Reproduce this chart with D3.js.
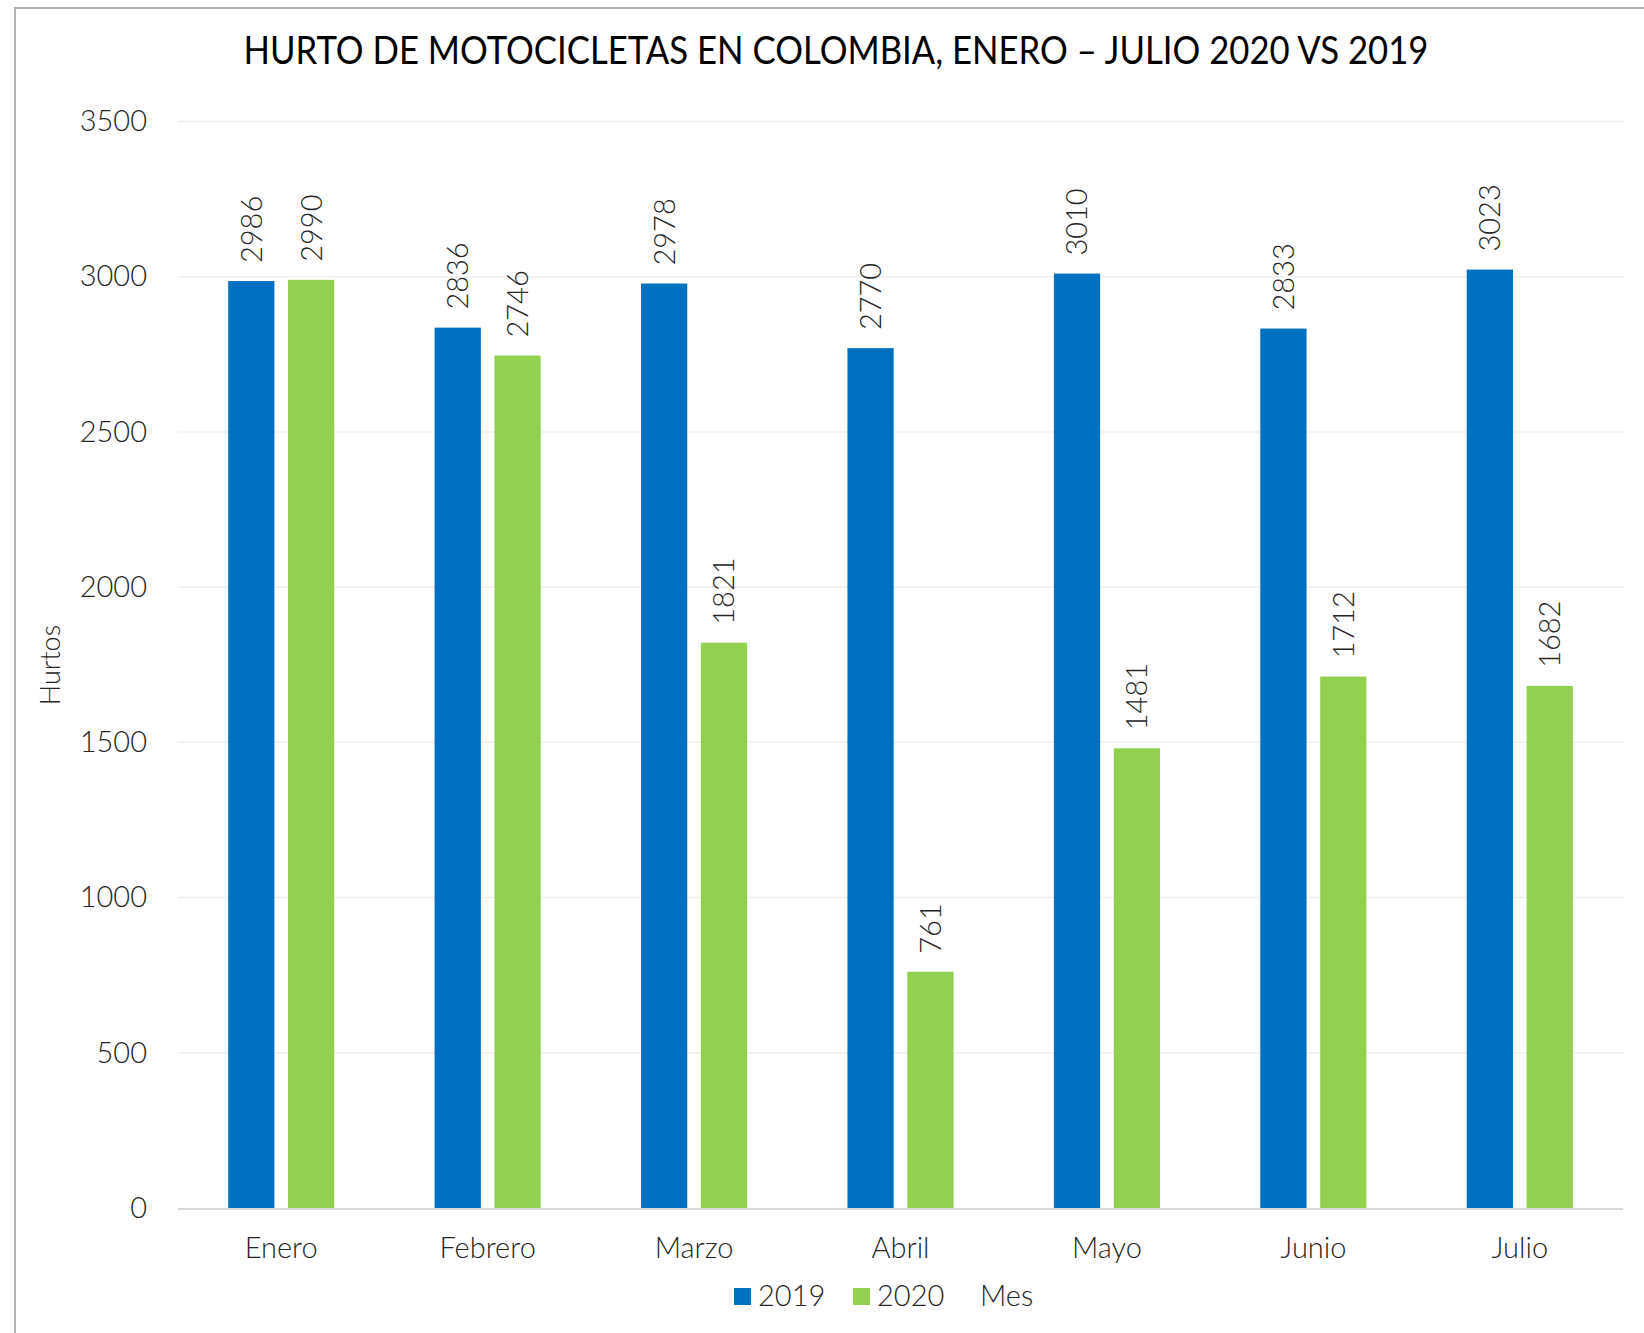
<!DOCTYPE html>
<html>
<head>
<meta charset="utf-8">
<script src="https://cdn.jsdelivr.net/npm/d3@7"></script>
<style>
  body { margin: 0; background: #fff; }
  svg { display: block; }
  text { fill: #262626; }
</style>
</head>
<body>
<svg id="chart" width="1644" height="1333"></svg>
<script>
// datos
const meses = ["Enero", "Febrero", "Marzo", "Abril", "Mayo", "Junio", "Julio"];
const series = ["2019", "2020"];
const hurtos2019 = [2986, 2836, 2978, 2770, 3010, 2833, 3023];
const hurtos2020 = [2990, 2746, 1821, 761, 1481, 1712, 1682];
const yTicks = [0, 500, 1000, 1500, 2000, 2500, 3000, 3500];

const colores = { "2019": "#0070C0", "2020": "#92D050" };
const font = "Lato, 'Open Sans', sans-serif";

const svg = d3.select("#chart");

// marco
svg.append("path")
  .attr("d", "M15,1333 V8 H1644")
  .attr("fill", "none")
  .attr("stroke", "#b4b4b4")
  .attr("stroke-width", 2);

const x = d3.scaleBand().domain(meses).range([178, 1623]).paddingInner(0).paddingOuter(0);
const y = d3.scaleLinear().domain([0, 3500]).range([1208, 121.5]);

const barW = x.bandwidth() * 0.224;
const gap = x.bandwidth() * 0.066;
const xs = d3.scaleOrdinal().domain(series)
  .range([x.bandwidth() / 2 - gap / 2 - barW, x.bandwidth() / 2 + gap / 2]);

// grilla
svg.append("g")
  .selectAll("line")
  .data(yTicks.filter(d => d > 0))
  .join("line")
  .attr("x1", 178).attr("x2", 1623)
  .attr("y1", d => y(d)).attr("y2", d => y(d))
  .attr("stroke", "#f0f0f0")
  .attr("stroke-width", 1.5);

// eje y
const yAxis = svg.append("g")
  .attr("transform", "translate(178,0)")
  .call(d3.axisLeft(y).tickValues(yTicks).tickFormat(d3.format("d")).tickSize(0).tickPadding(31));
yAxis.select(".domain").remove();
yAxis.selectAll("text")
  .attr("font-family", font).attr("font-weight", 300)
  .attr("font-size", 29).attr("fill", "#262626");

// barras
const data = [];
meses.forEach((m, i) => {
  data.push({ mes: m, serie: "2019", valor: hurtos2019[i] });
  data.push({ mes: m, serie: "2020", valor: hurtos2020[i] });
});

svg.append("g")
  .selectAll("rect")
  .data(data)
  .join("rect")
  .attr("x", d => x(d.mes) + xs(d.serie))
  .attr("y", d => y(d.valor))
  .attr("width", barW)
  .attr("height", d => y(0) - y(d.valor))
  .attr("fill", d => colores[d.serie]);

// etiquetas
svg.append("g")
  .selectAll("text")
  .data(data)
  .join("text")
  .attr("transform", d => {
    const cx = x(d.mes) + xs(d.serie) + barW / 2;
    const cy = y(d.valor) - 18;
    return "translate(" + cx + "," + cy + ") rotate(-90)";
  })
  .attr("dy", "0.36em")
  .attr("text-anchor", "start")
  .attr("font-family", font).attr("font-weight", 300)
  .attr("font-size", 29)
  .text(d => d.valor);

// eje x
svg.append("line")
  .attr("x1", 178).attr("x2", 1623)
  .attr("y1", y(0) + 1).attr("y2", y(0) + 1)
  .attr("stroke", "#d9d9d9")
  .attr("stroke-width", 2);

const xAxis = svg.append("g")
  .attr("transform", "translate(0," + y(0) + ")")
  .call(d3.axisBottom(x).tickSize(0).tickPadding(29));
xAxis.select(".domain").remove();
xAxis.selectAll("text")
  .attr("font-family", font).attr("font-weight", 300)
  .attr("font-size", 29).attr("fill", "#262626");

// titulo
svg.append("text")
  .attr("x", 836).attr("y", 64)
  .attr("text-anchor", "middle")
  .attr("font-family", font)
  .attr("font-size", 38)
  .attr("textLength", 1185)
  .attr("lengthAdjust", "spacingAndGlyphs")
  .attr("fill", "#000")
  .style("fill", "#000")
  .text("HURTO DE MOTOCICLETAS EN COLOMBIA, ENERO – JULIO 2020 VS 2019");

// titulo eje y
svg.append("text")
  .attr("transform", "translate(60,665) rotate(-90)")
  .attr("text-anchor", "middle")
  .attr("font-family", font).attr("font-weight", 300)
  .attr("font-size", 27)
  .text("Hurtos");

// leyenda
const legend = svg.append("g").attr("transform", "translate(734,1288)");
const legX = { "2019": 0, "2020": 119 };
series.forEach(s => {
  legend.append("rect")
    .attr("x", legX[s]).attr("y", 0)
    .attr("width", 17).attr("height", 17)
    .attr("fill", colores[s]);
  legend.append("text")
    .attr("x", legX[s] + 24).attr("y", 18)
    .attr("font-family", font).attr("font-weight", 300)
    .attr("font-size", 29)
    .text(s);
});
legend.append("text")
  .attr("x", 246).attr("y", 18)
  .attr("font-family", font).attr("font-weight", 300)
  .attr("font-size", 29)
  .text("Mes");
</script>
</body>
</html>
